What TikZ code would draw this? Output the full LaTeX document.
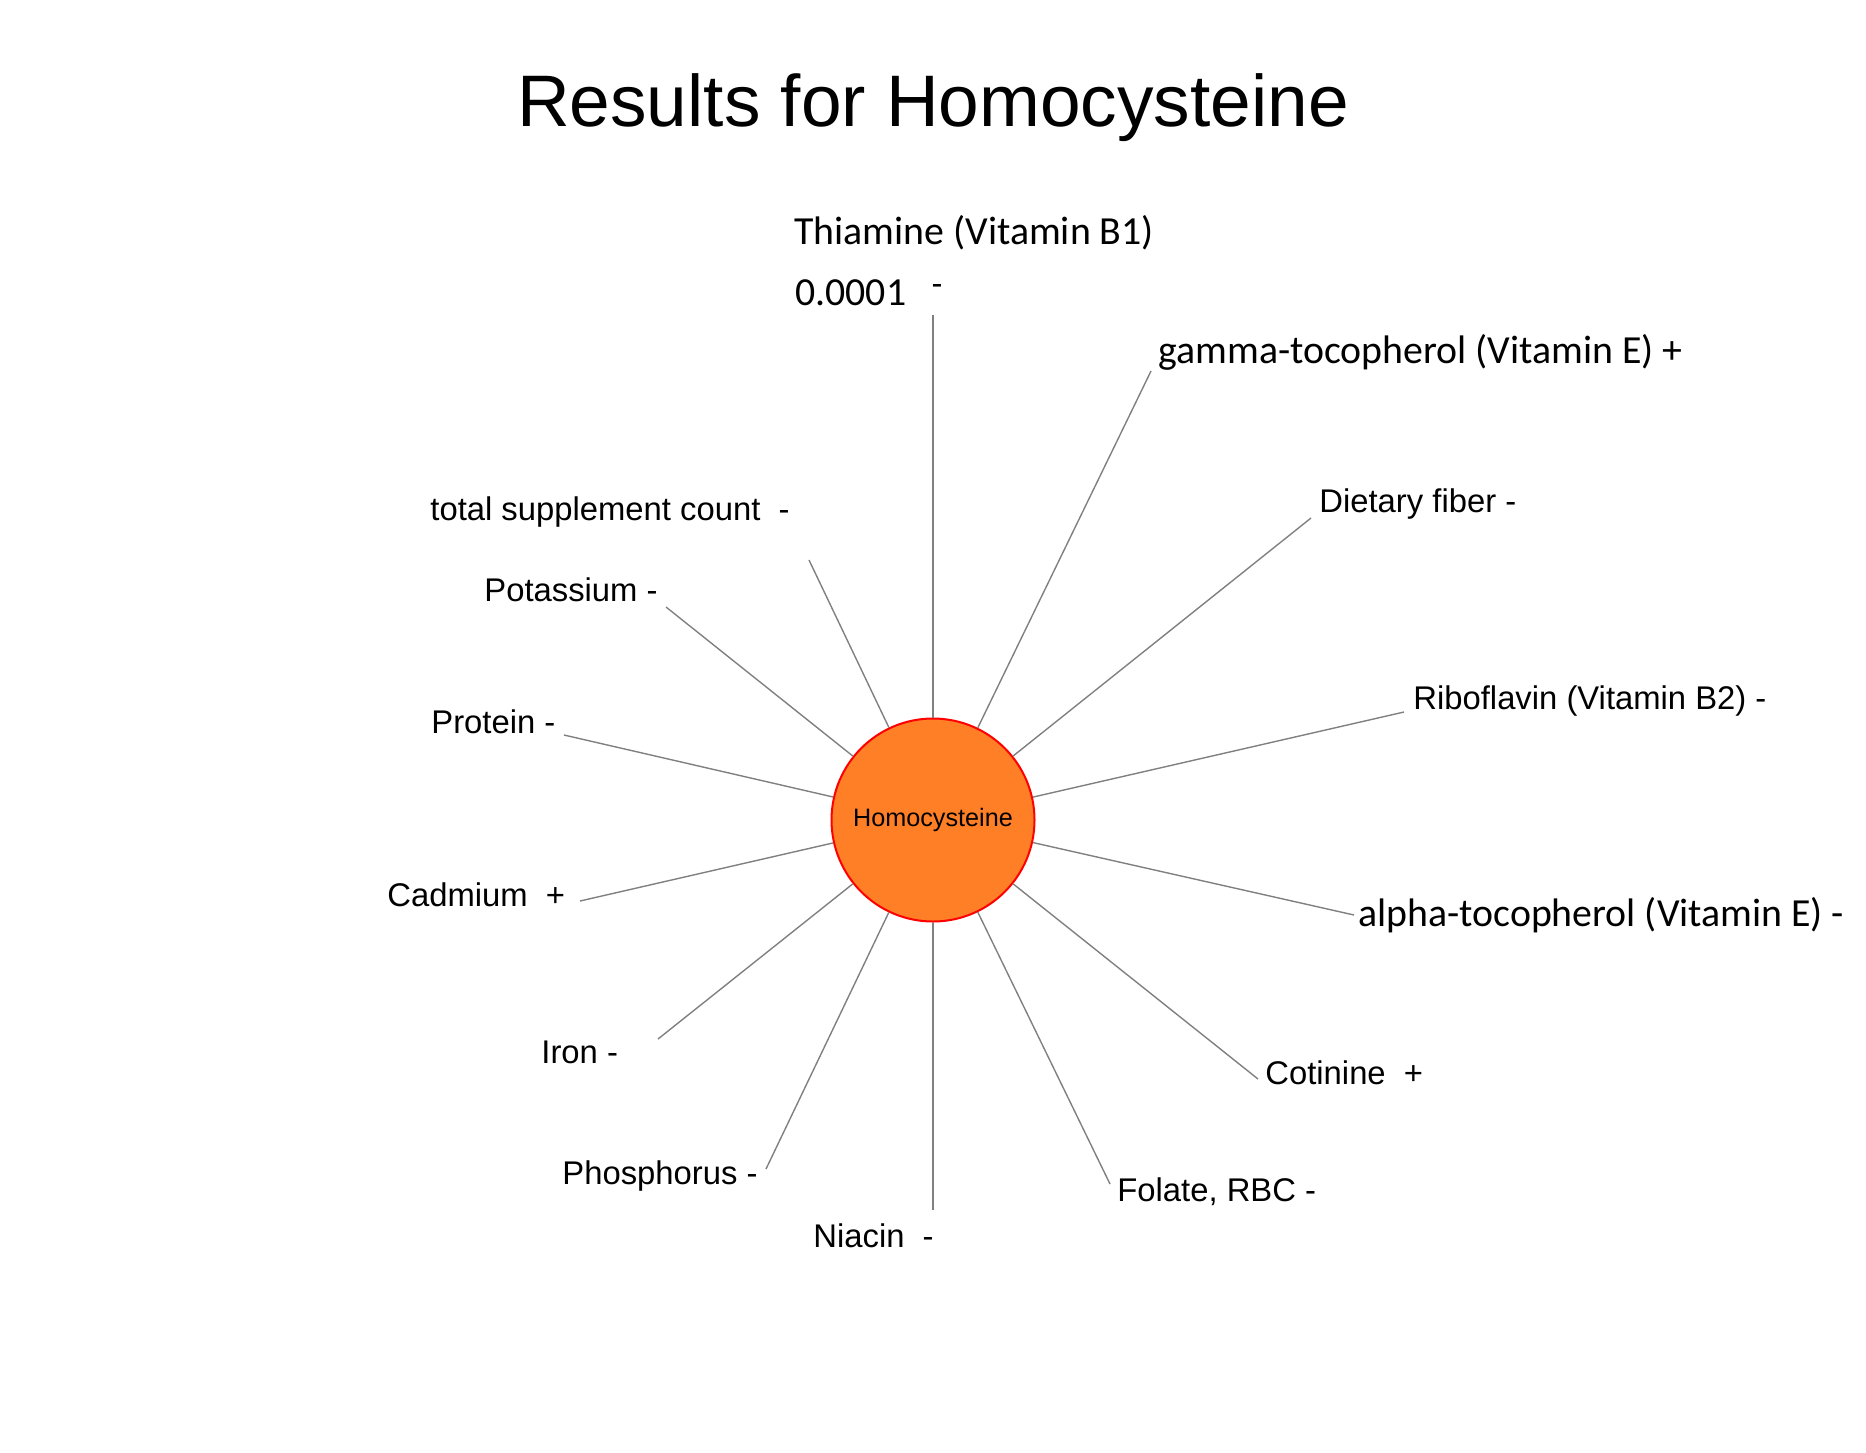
\documentclass[tikz,border=0pt]{standalone}
\usepackage{fontspec}
\setmainfont{Liberation Sans}
\newfontfamily\calfont{Carlito}
\usetikzlibrary{positioning}

\begin{document}
\begin{tikzpicture}[
    x=0.5pt, y=-0.5pt,
    hub/.style={circle, draw=red, line width=1pt, fill=hubfill, minimum size=101.5pt, inner sep=0pt, font=\fontsize{12.6}{15}\selectfont},
    leaf/.style={anchor=base west, inner sep=0pt, font=\fontsize{16.4}{19}\selectfont},
    leaf_cal/.style={leaf, font=\calfont\fontsize{19.9}{23}\selectfont},
    title/.style={anchor=base, inner sep=0pt, font=\fontsize{36.5}{42}\selectfont},
    spoke/.style={draw=black!50, line width=0.7pt}
]
\definecolor{hubfill}{RGB}{255,127,39}
\useasboundingbox (0,0) rectangle (1866,1452);

% --- Title ---
\node[title] (title_main) at (933,126) {Results for Homocysteine};

% --- Hub ---
\node[hub] (hub) at (933,820) {Homocysteine};

% --- Labels, upper half ---
\node[leaf_cal] (lbl_thiamine) at (794,244) {Thiamine (Vitamin B1)};
\node[leaf_cal] (lbl_thiamine_p) at (795,305) {0.0001};
\node[inner sep=0pt, font=\fontsize{16.4}{19}\selectfont] (sign_thiamine) at (937,289) {-};
\node[leaf_cal] (lbl_gamma) at (1158,363) {gamma-tocopherol (Vitamin E) +};
\node[leaf] (lbl_fiber) at (1319,512) {Dietary fiber -};
\node[leaf] (lbl_ribo) at (1413,709) {Riboflavin (Vitamin B2) -};
\node[leaf] (lbl_suppl) at (430,520) {total supplement count~ -};
\node[leaf] (lbl_potass) at (484,601) {Potassium -};
\node[leaf] (lbl_protein) at (431,733) {Protein -};

% --- Labels, lower half ---
\node[leaf_cal] (lbl_alpha) at (1358,926) {alpha-tocopherol (Vitamin E) -};
\node[leaf] (lbl_cotinine) at (1265,1084) {Cotinine~ +};
\node[leaf] (lbl_folate) at (1117,1201) {Folate, RBC -};
\node[leaf] (lbl_niacin) at (813,1247) {Niacin~ -};
\node[leaf] (lbl_phosph) at (562,1184) {Phosphorus -};
\node[leaf] (lbl_iron) at (541,1063) {Iron -};
\node[leaf] (lbl_cadmium) at (387,906) {Cadmium~ +};

% --- Spoke ends ---
\coordinate (end_thiamine) at (933,315);
\coordinate (end_gamma) at (1151,371);
\coordinate (end_fiber) at (1311,518);
\coordinate (end_ribo) at (1404,712);
\coordinate (end_alpha) at (1354,915);
\coordinate (end_cotinine) at (1258,1079);
\coordinate (end_folate) at (1110,1184);
\coordinate (end_niacin) at (933,1210);
\coordinate (end_phosph) at (766,1169);
\coordinate (end_iron) at (658,1039);
\coordinate (end_cadmium) at (580,901);
\coordinate (end_protein) at (564,735);
\coordinate (end_potass) at (666,607);
\coordinate (end_suppl) at (809,560);

% --- Spokes ---
\draw[spoke] (hub) -- (end_thiamine);
\draw[spoke] (hub) -- (end_gamma);
\draw[spoke] (hub) -- (end_fiber);
\draw[spoke] (hub) -- (end_ribo);
\draw[spoke] (hub) -- (end_alpha);
\draw[spoke] (hub) -- (end_cotinine);
\draw[spoke] (hub) -- (end_folate);
\draw[spoke] (hub) -- (end_niacin);
\draw[spoke] (hub) -- (end_phosph);
\draw[spoke] (hub) -- (end_iron);
\draw[spoke] (hub) -- (end_cadmium);
\draw[spoke] (hub) -- (end_protein);
\draw[spoke] (hub) -- (end_potass);
\draw[spoke] (hub) -- (end_suppl);

\end{tikzpicture}
\end{document}
